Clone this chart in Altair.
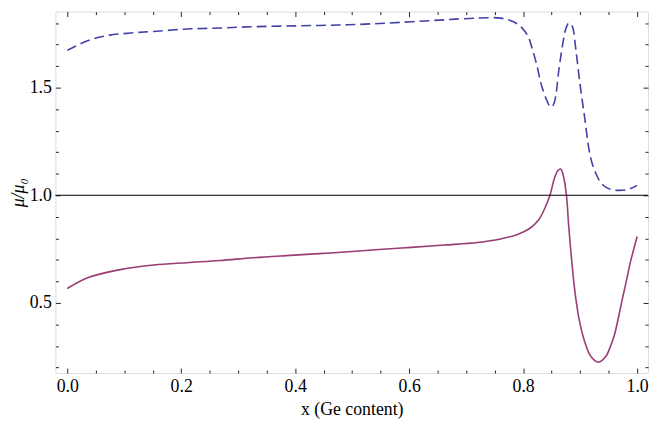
import altair as alt
import pandas as pd

# Blue dashed curve
x_blue = [0.0, 0.037, 0.071, 0.112, 0.152, 0.21, 0.268, 0.326, 0.384, 0.442, 0.494,
          0.547, 0.604, 0.662, 0.72, 0.76, 0.783, 0.797, 0.808, 0.816, 0.824, 0.832,
          0.841, 0.848, 0.853, 0.857, 0.863, 0.870, 0.875, 0.880, 0.884, 0.887,
          0.893, 0.900, 0.908, 0.916, 0.922, 0.928, 0.936, 0.945, 0.955, 0.968,
          0.985, 1.0]
y_blue = [1.673, 1.719, 1.742, 1.754, 1.761, 1.772, 1.777, 1.783, 1.786, 1.789, 1.792,
          1.798, 1.806, 1.815, 1.823, 1.823, 1.806, 1.78, 1.742, 1.68, 1.604, 1.512,
          1.444, 1.41, 1.42, 1.459, 1.589, 1.711, 1.775, 1.80, 1.795, 1.78,
          1.665, 1.512, 1.36, 1.206, 1.14, 1.099, 1.06, 1.038, 1.027, 1.023,
          1.028, 1.046]

# Purple solid curve
x_red = [0.0, 0.037, 0.095, 0.152, 0.21, 0.268, 0.326, 0.384, 0.442, 0.5,
         0.547, 0.604, 0.662, 0.72, 0.76, 0.789, 0.812, 0.827, 0.838, 0.847,
         0.855, 0.861, 0.866, 0.871, 0.876, 0.880, 0.885, 0.891, 0.898, 0.908,
         0.919, 0.932, 0.945, 0.952, 0.960, 0.967, 0.974, 0.981, 0.988, 1.0]
y_red = [0.567, 0.618, 0.656, 0.676, 0.687, 0.697, 0.71, 0.72, 0.729, 0.739,
         0.748, 0.758, 0.769, 0.781, 0.797, 0.817, 0.847, 0.885, 0.94, 1.0,
         1.08, 1.115, 1.122, 1.085, 1.0, 0.855, 0.702, 0.549, 0.427, 0.32,
         0.251, 0.225, 0.251, 0.29, 0.35, 0.43, 0.518, 0.60, 0.687, 0.809]

x_major = [0.0, 0.2, 0.4, 0.6, 0.8, 1.0]
x_minor = [0.05, 0.1, 0.15, 0.25, 0.3, 0.35, 0.45, 0.5, 0.55, 0.65, 0.7, 0.75,
           0.85, 0.9, 0.95]
y_major = [0.5, 1.0, 1.5]
y_minor = [0.2, 0.3, 0.4, 0.6, 0.7, 0.8, 0.9, 1.1, 1.2, 1.3, 1.4, 1.6, 1.7, 1.8]
ref_level = [1.0]

X_DOMAIN = [-0.0208, 1.0191]
Y_DOMAIN = [0.1743, 1.8532]
FONT = "Liberation Serif"

blue_df = pd.DataFrame({"x": x_blue, "y": y_blue})
red_df = pd.DataFrame({"x": x_red, "y": y_red})
ref_df = pd.DataFrame({"y": ref_level})


def xs():
    return alt.Scale(domain=X_DOMAIN, nice=False, zero=False)


def ys():
    return alt.Scale(domain=Y_DOMAIN, nice=False, zero=False)


def ax(orient, values, size, labels=False, title=None, lp=4, tp=6):
    kw = dict(orient=orient, values=values, tickSize=size, offset=-size,
              domain=False, grid=False, labels=labels, tickColor="#222222",
              tickWidth=1)
    if labels:
        kw.update(labelFont=FONT, labelFontSize=18, labelColor="black",
                  labelPadding=lp, format=".1f")
    if title:
        kw.update(title=title, titleFont=FONT, titleFontSize=18,
                  titleFontWeight="normal", titleColor="black", titlePadding=tp)
    return alt.Axis(**kw)


blue = alt.Chart(blue_df).mark_line(
    color="#4040A6", strokeWidth=1.6, strokeDash=[10, 5], interpolate="catmull-rom"
).encode(
    x=alt.X("x:Q", scale=xs(),
            axis=ax("bottom", x_major, 5, labels=True, title="x (Ge content)", lp=5, tp=5)),
    y=alt.Y("y:Q", scale=ys(),
            axis=alt.Axis(orient="left", values=y_major, tickSize=5, offset=-5,
                          domain=False, grid=False, tickColor="#222222",
                          labelFont=FONT, labelFontSize=18, labelColor="black",
                          labelPadding=4, format=".1f", title="μ/μ₀",
                          titleFont=FONT, titleFontSize=18, titleFontStyle="italic",
                          titleFontWeight="normal", titleColor="black",
                          titlePadding=2)),
)

red = alt.Chart(red_df).mark_line(
    color="#993D74", strokeWidth=1.6, interpolate="catmull-rom"
).encode(
    x=alt.X("x:Q", scale=xs(), axis=ax("bottom", x_minor, 3), title=None),
    y=alt.Y("y:Q", scale=ys(), axis=ax("left", y_minor, 3), title=None),
)

ref = alt.Chart(ref_df).mark_rule(color="black", strokeWidth=1.1).encode(
    y=alt.Y("y:Q", scale=ys(), axis=ax("right", y_major, 5), title=None),
)

ticks_a = alt.Chart(blue_df).mark_point(opacity=0).encode(
    x=alt.X("x:Q", scale=xs(), axis=ax("top", x_major, 5), title=None),
    y=alt.Y("y:Q", scale=ys(), axis=ax("right", y_minor, 3), title=None),
)

ticks_b = alt.Chart(blue_df).mark_point(opacity=0).encode(
    x=alt.X("x:Q", scale=xs(), axis=ax("top", x_minor, 3), title=None),
)

chart = alt.layer(blue, red, ref, ticks_a, ticks_b).resolve_scale(
    x="independent", y="independent"
).properties(
    width=600, height=366,
    autosize="none",
    padding={"left": 48, "top": 1, "right": 1, "bottom": 56},
).configure_view(
    stroke="#222222", strokeWidth=1.2
).configure(background="white")

chart.save("out.html", embed_options={"renderer": "svg", "actions": False})
